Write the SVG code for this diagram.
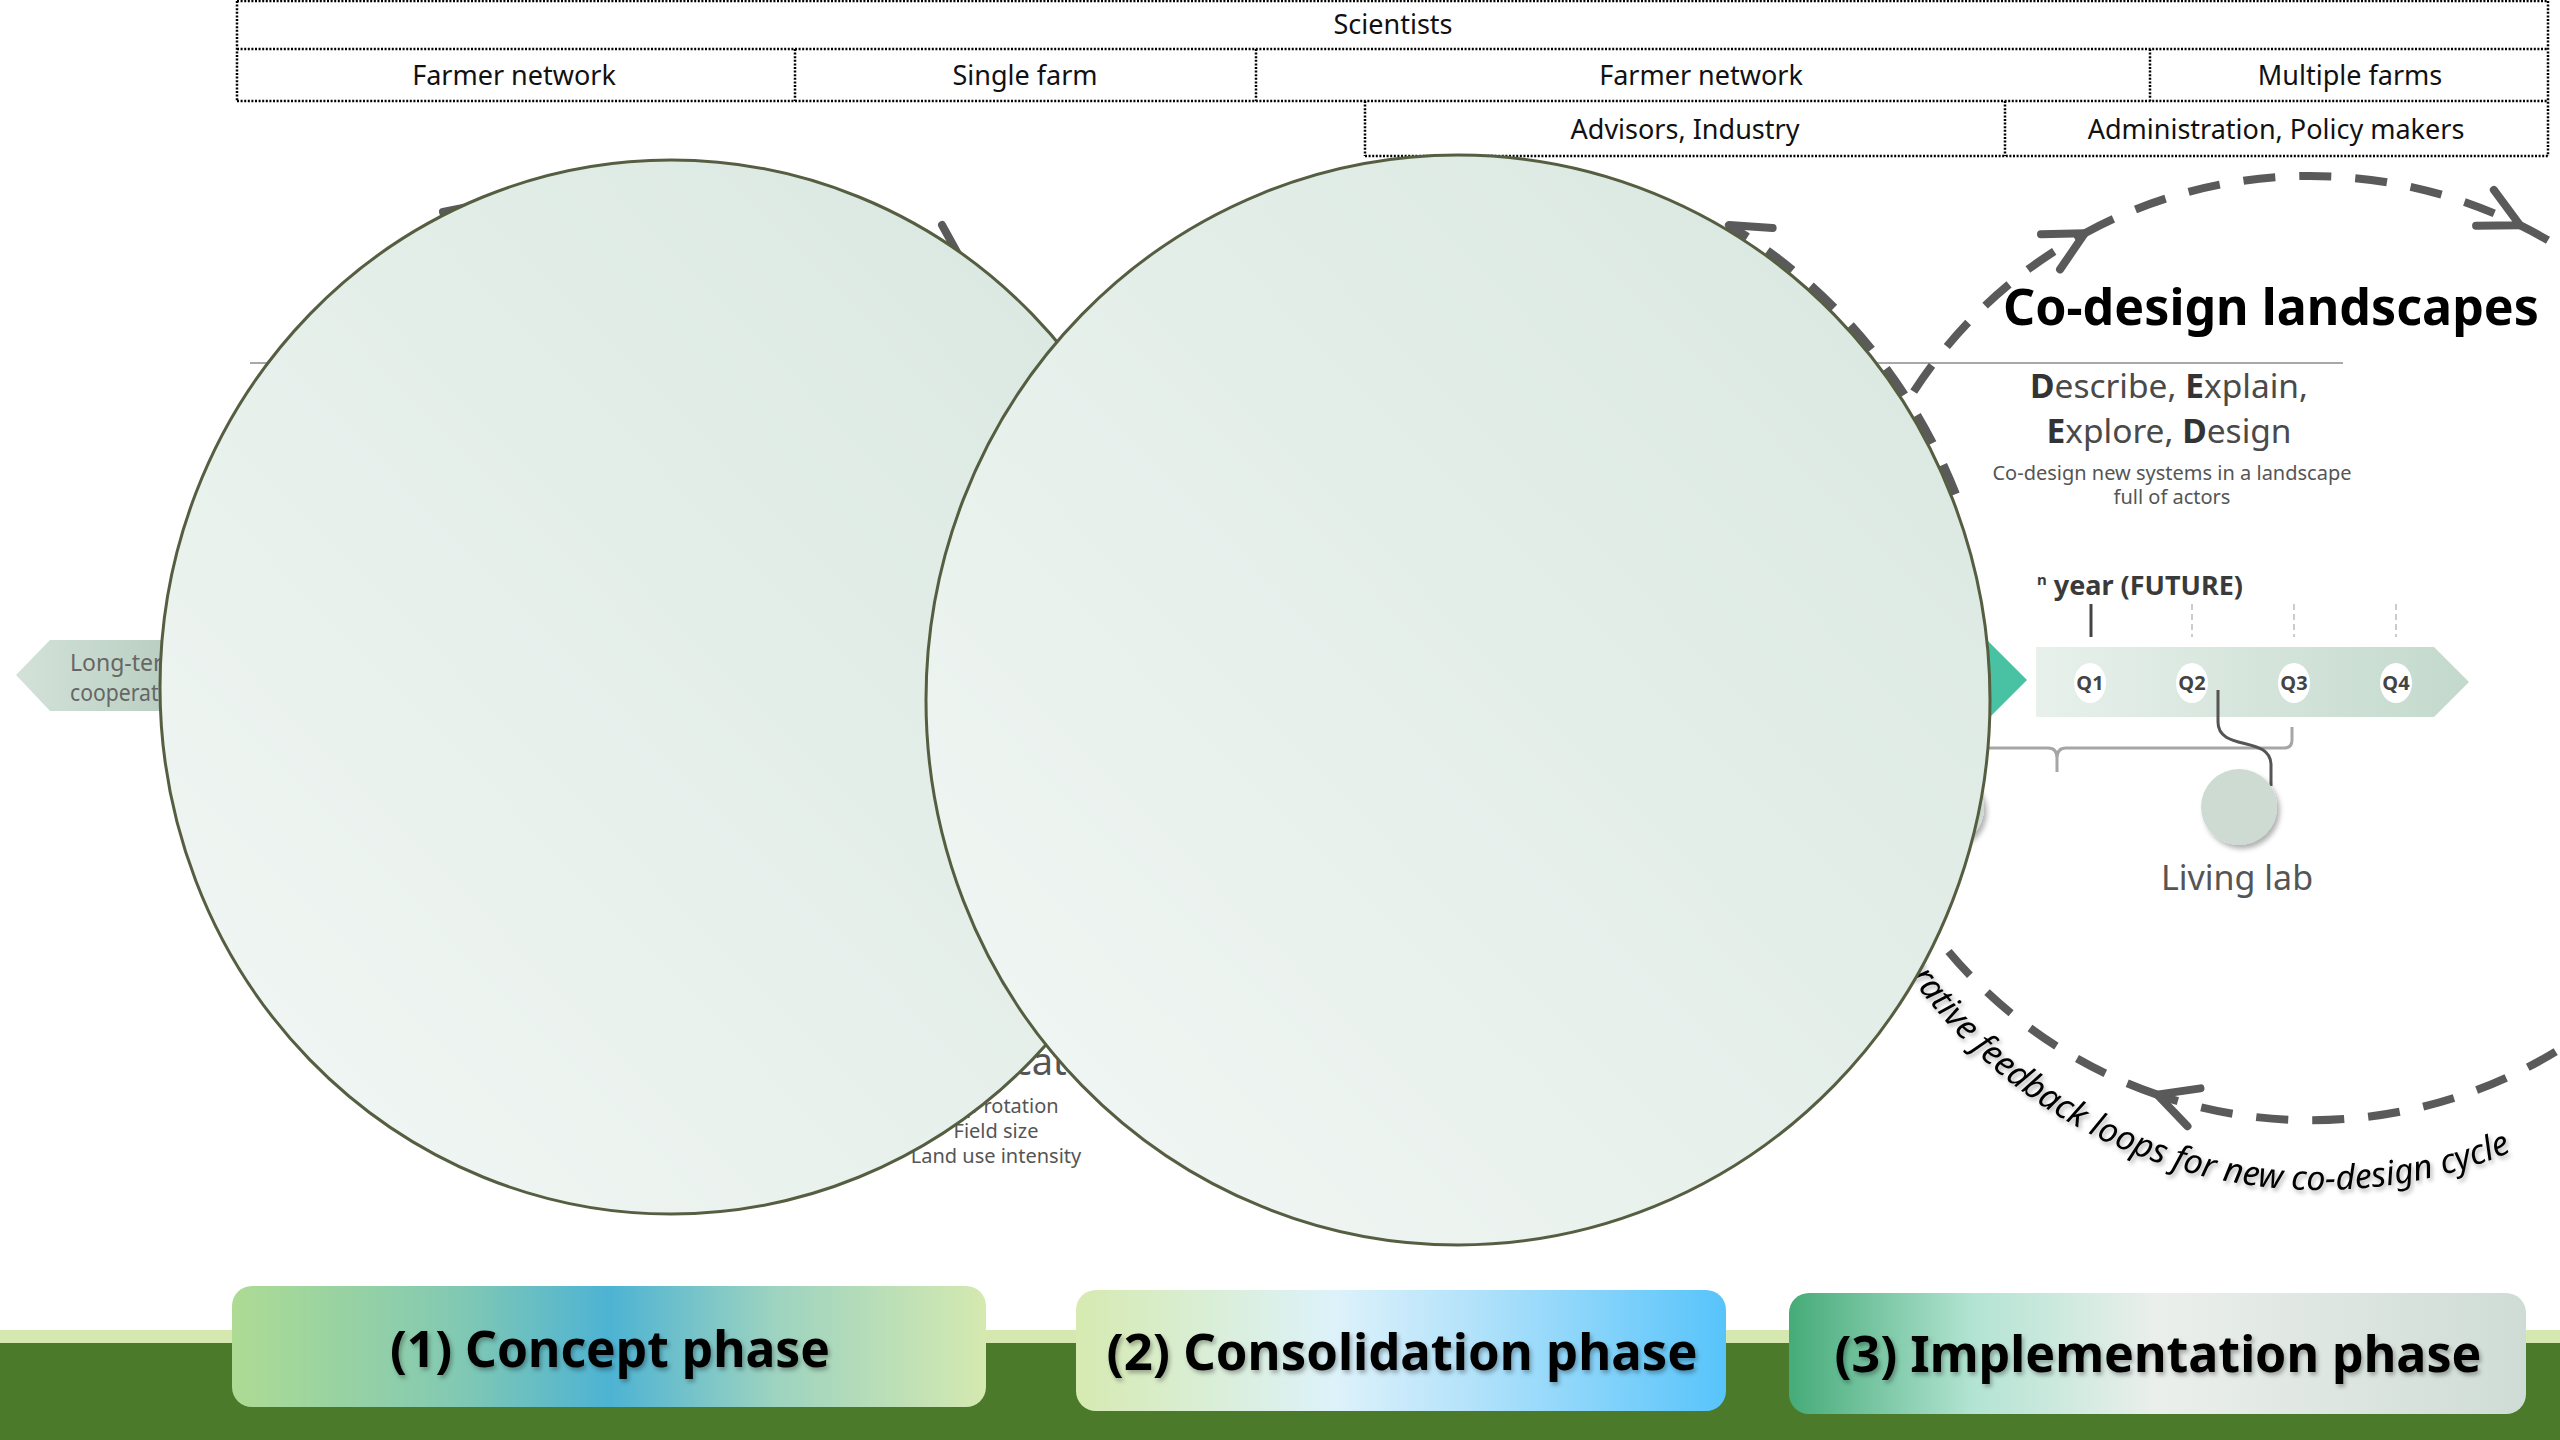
<svg xmlns="http://www.w3.org/2000/svg" width="2560" height="1440" viewBox="0 0 2560 1440">
<defs>
<style>
.sans{font-family:"Noto Sans","Open Sans","Liberation Sans",sans-serif}
.dot{fill:none;stroke:#000;stroke-width:2.5;stroke-dasharray:2 1.6}
.boxt{font-family:"Noto Sans","Open Sans","Liberation Sans",sans-serif;font-size:27px;fill:#111;text-anchor:middle}
.big{stroke:#565e42;stroke-width:3}
.dash{fill:none;stroke:#5a5a5a;stroke-width:8;stroke-dasharray:32 24}
.qc{fill:#fff}
.qt{font-family:"Noto Sans","Open Sans","Liberation Sans",sans-serif;font-size:20px;font-weight:bold;fill:#444;text-anchor:middle}
.phase{font-family:"Noto Sans","Open Sans","Liberation Sans",sans-serif;font-size:50px;font-weight:bold;fill:#000;text-anchor:middle}
.sub{font-family:"Noto Sans","Open Sans","Liberation Sans",sans-serif;font-size:20px;fill:#555;text-anchor:middle}
</style>
<linearGradient id="gCircle" x1="0.15" y1="0.85" x2="0.85" y2="0.15">
<stop offset="0" stop-color="#eff5f2"/><stop offset="1" stop-color="#dce9e2"/>
</linearGradient>
<linearGradient id="gLong" x1="0" y1="0" x2="1" y2="0">
<stop offset="0" stop-color="#d3e2d9"/><stop offset="1" stop-color="#a3bfae"/>
</linearGradient>
<linearGradient id="gBar" x1="0" y1="0" x2="1" y2="0">
<stop offset="0" stop-color="#e8f1ec"/><stop offset="1" stop-color="#c3d9cc"/>
</linearGradient>
<linearGradient id="gP1" x1="0" y1="0" x2="1" y2="0">
<stop offset="0" stop-color="#addb93"/><stop offset="0.3" stop-color="#82c9b3"/><stop offset="0.5" stop-color="#4db3d3"/><stop offset="0.72" stop-color="#9dd3c0"/><stop offset="1" stop-color="#d5e9b0"/>
</linearGradient>
<linearGradient id="gP2" x1="0" y1="0" x2="1" y2="0">
<stop offset="0" stop-color="#d6eab1"/><stop offset="0.4" stop-color="#ddf2fa"/><stop offset="0.6" stop-color="#b5e3fa"/><stop offset="1" stop-color="#57c4fa"/>
</linearGradient>
<linearGradient id="gP3" x1="0" y1="0" x2="1" y2="0">
<stop offset="0" stop-color="#45ab78"/><stop offset="0.25" stop-color="#b3e4d3"/><stop offset="0.5" stop-color="#ebefec"/><stop offset="1" stop-color="#cfdcd5"/>
</linearGradient>
<marker id="chev" markerUnits="userSpaceOnUse" markerWidth="100" markerHeight="100" viewBox="-50 -50 100 100" refX="0" refY="0" orient="auto" overflow="visible">
<path d="M-39 -20 L0 0 L-39 20" fill="none" stroke="#5a5a5a" stroke-width="8" stroke-linecap="round" stroke-linejoin="round"/>
</marker>
<filter id="sh" x="-30%" y="-30%" width="170%" height="170%">
<feDropShadow dx="3" dy="4" stdDeviation="2.5" flood-color="#000" flood-opacity="0.3"/>
</filter>
<filter id="tsh" x="-10%" y="-30%" width="120%" height="170%">
<feDropShadow dx="2" dy="3" stdDeviation="2" flood-color="#000" flood-opacity="0.3"/>
</filter>
</defs>

<rect width="2560" height="1440" fill="#fff"/>

<g id="ground">
<rect x="0" y="1330" width="2560" height="14" fill="#d5e8b0"/>
<rect x="0" y="1343" width="2560" height="97" fill="#4b7a2a"/>
</g>

<g id="actor-box-borders">
<path class="dot" d="M237 1 H2548 M237 49 H2548 M237 101 H2548 M1365 156 H2548 M237 1 V101 M2548 1 V156 M795 49 V101 M1256 49 V101 M2150 49 V101 M1365 101 V156 M2005 101 V156"/>
</g>
<g id="actor-boxes">
<g id="box-scientists"><text class="boxt" x="1393" y="34">Scientists</text></g>
<g id="box-farmer-network-1"><text class="boxt" x="514" y="85">Farmer network</text></g>
<g id="box-single-farm"><text class="boxt" x="1025" y="85">Single farm</text></g>
<g id="box-farmer-network-2"><text class="boxt" x="1701" y="85">Farmer network</text></g>
<g id="box-multiple-farms"><text class="boxt" x="2350" y="85">Multiple farms</text></g>
<g id="box-advisors"><text class="boxt" x="1685" y="139">Advisors, Industry</text></g>
<g id="box-administration"><text class="boxt" x="2276" y="139">Administration, Policy makers</text></g>
</g>

<g id="node-long-term">
<polygon points="16,675 50,640 300,640 300,711 50,711" fill="url(#gLong)"/>
<text class="sans" x="70" y="671" font-size="23" fill="#666">Long-term</text>
<text class="sans" x="70" y="701" font-size="23" fill="#666" textLength="120" lengthAdjust="spacingAndGlyphs">cooperation</text>
</g>

<g id="node-indicators">
<text class="sans" x="944" y="1075" font-size="38" fill="#555">Indicators</text>
<text class="sub" x="996" y="1113">Crop rotation</text>
<text class="sub" x="996" y="1138">Field size</text>
<text class="sub" x="996" y="1163">Land use intensity</text>
</g>

<line id="title-rule" x1="250" y1="363" x2="2343" y2="363" stroke="#a8a8a8" stroke-width="2"/>

<polygon id="pointer" points="1950,640 1987,640 2027,680 1987,720 1950,720" fill="#48c2a3"/>
<circle id="hidden-lab" cx="1946" cy="808" r="38" fill="#cddbd3" filter="url(#sh)"/>
<path id="brace" d="M1960 748 H2048 Q2057 748 2057 758 V772 M2057 758 Q2057 748 2066 748 H2284 Q2292 748 2292 740 V727" fill="none" stroke="#a6a6a6" stroke-width="3"/>

<g id="timeline">
<polygon points="2036,647 2434,647 2469,682 2434,717 2036,717" fill="url(#gBar)"/>
<ellipse class="qc" cx="2090" cy="683" rx="16" ry="20"/>
<ellipse class="qc" cx="2192" cy="683" rx="16" ry="20"/>
<ellipse class="qc" cx="2294" cy="683" rx="16" ry="20"/>
<ellipse class="qc" cx="2396" cy="683" rx="16" ry="20"/>
<text class="qt" x="2090" y="690">Q1</text>
<text class="qt" x="2192" y="690">Q2</text>
<text class="qt" x="2294" y="690">Q3</text>
<text class="qt" x="2396" y="690">Q4</text>
<line x1="2091" y1="604" x2="2091" y2="637" stroke="#444" stroke-width="3"/>
<line x1="2192" y1="604" x2="2192" y2="637" stroke="#ccc" stroke-width="2" stroke-dasharray="6 4"/>
<line x1="2294" y1="604" x2="2294" y2="637" stroke="#ccc" stroke-width="2" stroke-dasharray="6 4"/>
<line x1="2396" y1="604" x2="2396" y2="637" stroke="#ccc" stroke-width="2" stroke-dasharray="6 4"/>
<text class="sans" x="2037" y="595" font-size="27" font-weight="bold" fill="#3a3a3a"><tspan font-size="15" dy="-10">n</tspan><tspan dy="10"> year (FUTURE)</tspan></text>
</g>

<g id="connectors">
<path class="dash" d="M1913.7 391.6 A472 472 0 0 1 2084.8 233.2" marker-end="url(#chev)"/>
<path class="dash" d="M2084.8 233.2 A472 472 0 0 1 2519.9 225.2" marker-end="url(#chev)"/>
<path class="dash" d="M2519.9 225.2 A472 472 0 0 1 2157.1 1094.6" marker-end="url(#chev)"/>
<path class="dash" d="M2157.1 1094.6 A472 472 0 0 1 1938.1 938.6"/>
<path class="dash" d="M1955.9 494 A537 550 0 0 0 1728.9 225.1" marker-end="url(#chev)"/>
<line x1="443" y1="212" x2="478" y2="205" stroke="#5a5a5a" stroke-width="8" stroke-linecap="round"/>
<line x1="942" y1="225" x2="963" y2="263" stroke="#5a5a5a" stroke-width="8" stroke-linecap="round"/>
<path id="link-q2-living-lab" d="M2218 690 V722 C2218 752 2271 735 2271 765 V786" fill="none" stroke="#555" stroke-width="3"/>
</g>

<path id="feedbackPath" d="M1889.2 943.8 A500 500 0 0 0 2753 940" fill="none"/>
<text id="feedback-label" class="sans" font-size="34" font-style="italic" fill="#000" filter="url(#tsh)"><textPath href="#feedbackPath">Iterative feedback loops for new co-design cycle</textPath></text>

<g id="node-concept-circle">
<ellipse class="big" cx="671" cy="687" rx="511" ry="527" fill="url(#gCircle)"/>
</g>
<g id="node-consolidation-circle">
<ellipse class="big" cx="1458" cy="700" rx="532" ry="545" fill="url(#gCircle)"/>
</g>

<g id="node-living-lab">
<circle cx="2239" cy="807" r="38" fill="#cddbd3" filter="url(#sh)"/>
<text class="sans" x="2237" y="890" font-size="34" fill="#555" text-anchor="middle">Living lab</text>
</g>

<g id="node-co-design">
<text class="sans" x="2271" y="325" font-size="51" font-weight="bold" fill="#000" text-anchor="middle" textLength="536" lengthAdjust="spacingAndGlyphs">Co-design landscapes</text>
<text class="sans" x="2169" y="398" font-size="33.5" fill="#4a4a4a" text-anchor="middle"><tspan font-weight="bold" fill="#333">D</tspan>escribe, <tspan font-weight="bold" fill="#333">E</tspan>xplain,</text>
<text class="sans" x="2169" y="443" font-size="33.5" fill="#4a4a4a" text-anchor="middle"><tspan font-weight="bold" fill="#333">E</tspan>xplore, <tspan font-weight="bold" fill="#333">D</tspan>esign</text>
<text class="sub" x="2172" y="480">Co-design new systems in a landscape</text>
<text class="sub" x="2172" y="504">full of actors</text>
</g>

<g id="phase-1">
<rect x="232" y="1286" width="754" height="121" rx="20" fill="url(#gP1)"/>
<text class="phase" x="610" y="1367" textLength="440" lengthAdjust="spacingAndGlyphs" filter="url(#tsh)">(1) Concept phase</text>
</g>
<g id="phase-2">
<rect x="1076" y="1290" width="650" height="121" rx="20" fill="url(#gP2)"/>
<text class="phase" x="1402" y="1370" textLength="591" lengthAdjust="spacingAndGlyphs" filter="url(#tsh)">(2) Consolidation phase</text>
</g>
<g id="phase-3">
<rect x="1789" y="1293" width="737" height="121" rx="20" fill="url(#gP3)"/>
<text class="phase" x="2158" y="1372" textLength="647" lengthAdjust="spacingAndGlyphs" filter="url(#tsh)">(3) Implementation phase</text>
</g>
</svg>
